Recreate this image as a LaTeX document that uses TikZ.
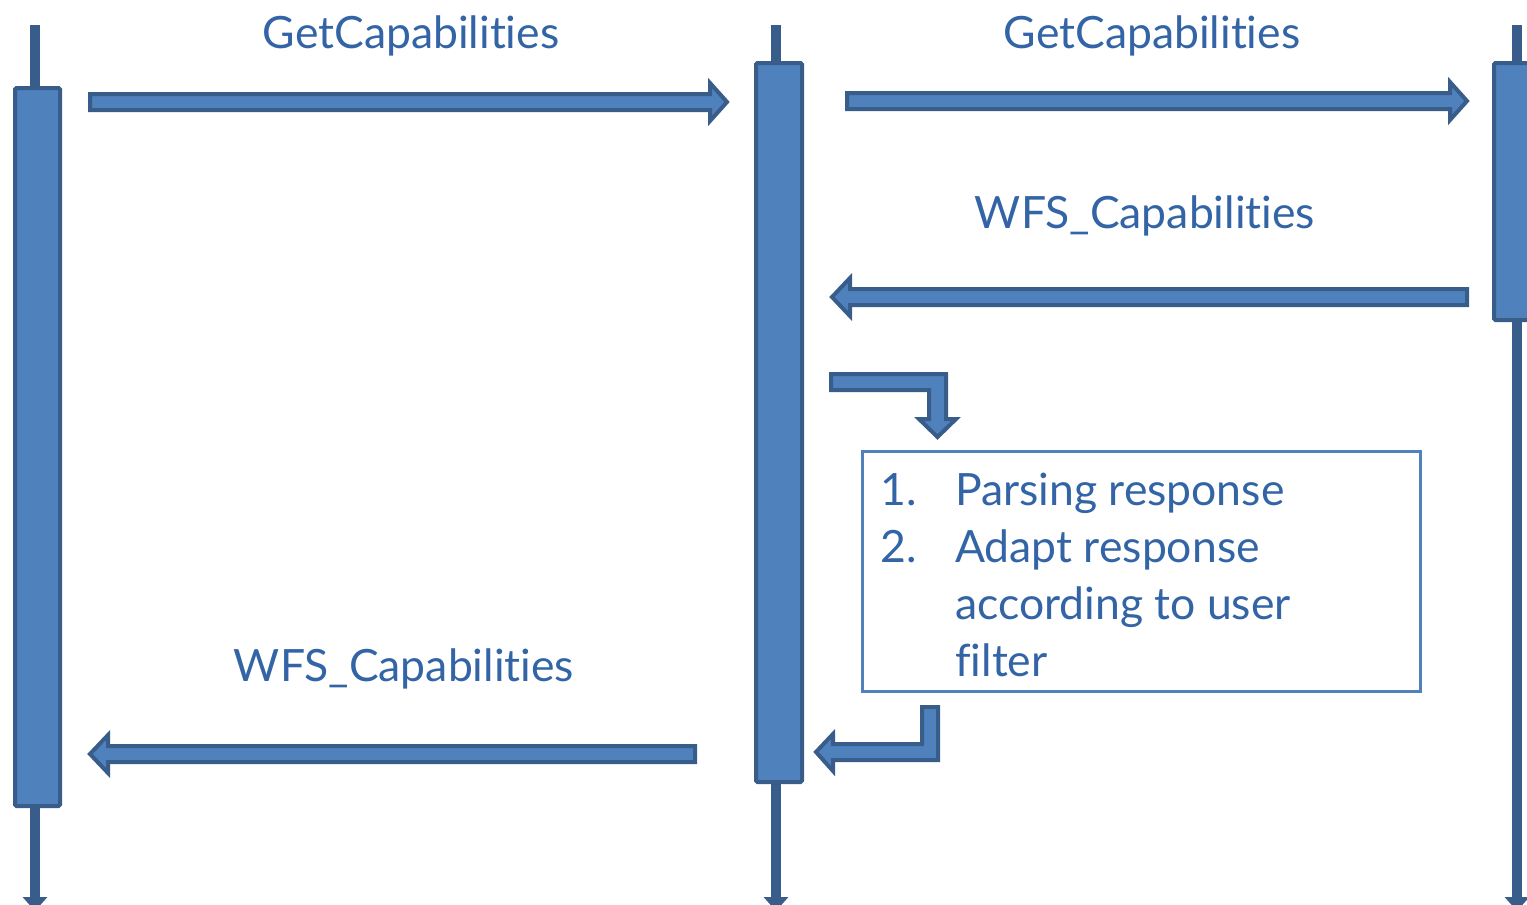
\documentclass[tikz,border=0pt]{standalone}
\usepackage{fontspec}
\setmainfont[Ligatures={NoCommon}]{Lato}
\usetikzlibrary{arrows.meta,calc}
\definecolor{afill}{HTML}{4F81BD}
\definecolor{astroke}{HTML}{385D8A}
\definecolor{txt}{HTML}{3264A6}
\newcommand\blockR[4]{% x0, xbase, xtip, y
  \draw[blockarrow] ({#1},{#4-8}) -- ({#2},{#4-8}) -- ({#2},{#4-19}) -- ({#3},{#4}) -- ({#2},{#4+19}) -- ({#2},{#4+8}) -- ({#1},{#4+8}) -- cycle;}
\begin{document}
\begin{tikzpicture}[x=1pt,y=-1pt,
  lifeline/.style={draw=astroke, line width=10pt, -{Triangle[width=24pt,length=14pt]}},
  actbox/.style={fill=afill, draw=astroke, line width=4pt, rounded corners=1.5pt, inner sep=0pt, outer sep=0pt},
  blockarrow/.style={fill=afill, draw=astroke, line width=4pt, line join=miter},
  lbl/.style={text=txt, font=\fontsize{44.5}{57}\selectfont, inner sep=0pt},
  note/.style={draw=afill, fill=white, line width=3pt, inner sep=0pt, outer sep=0pt}]
\useasboundingbox (0,0) rectangle (1527,905);
\clip (0,0) rectangle (1527,905);
% lifelines
\coordinate (La) at (35,25);  \coordinate (Lb) at (35,911);
\coordinate (Ma) at (776,25); \coordinate (Mb) at (776,911);
\coordinate (Ra) at (1517,25); \coordinate (Rb) at (1517,911);
\draw[lifeline] (La) -- (Lb);
\draw[lifeline] (Ma) -- (Mb);
\draw[lifeline] (Ra) -- (Rb);
% activation boxes
\node[actbox, minimum width=45pt, minimum height=718pt, anchor=north west] (A) at (15,88) {};
\node[actbox, minimum width=46pt, minimum height=719pt, anchor=north west] (B) at (756,63) {};
\node[actbox, minimum width=46pt, minimum height=257pt, anchor=north west] (C) at (1494,63) {};
% messages
\blockR{90}{710}{727}{102}
\blockR{847}{1450}{1467}{101}
\blockR{1467}{850}{832}{297}
\blockR{695}{108}{90}{754}
% bent arrows
\draw[blockarrow] (831,374) -- (946,374) -- (946,419) -- (956,419) -- (937.5,437) -- (919,419) -- (929,419) -- (929,390) -- (831,390) -- cycle;
\draw[blockarrow] (922,707) -- (938,707) -- (938,760) -- (833,760) -- (833,771) -- (816,752) -- (833,734) -- (833,744) -- (922,744) -- cycle;
% note
\node[note, minimum width=558pt, minimum height=240pt, anchor=north west] (N) at (862.5,451.5) {};
\node[lbl, anchor=base west] (NT) at (880,505) {\begin{tabular}[t]{@{}p{75pt}@{}l@{}}1. & Parsing response\\ 2. & Adapt response\\ & according to user\\ & filter\end{tabular}};
% labels
\node[lbl] (t1) at (411,36) {GetCapabilities};
\node[lbl] (t2) at (1152,36) {GetCapabilities};
\node[lbl] (t3) at (1145,216) {WFS\_Capabilities};
\node[lbl] (t4) at (404,669) {WFS\_Capabilities};
\end{tikzpicture}
\end{document}
